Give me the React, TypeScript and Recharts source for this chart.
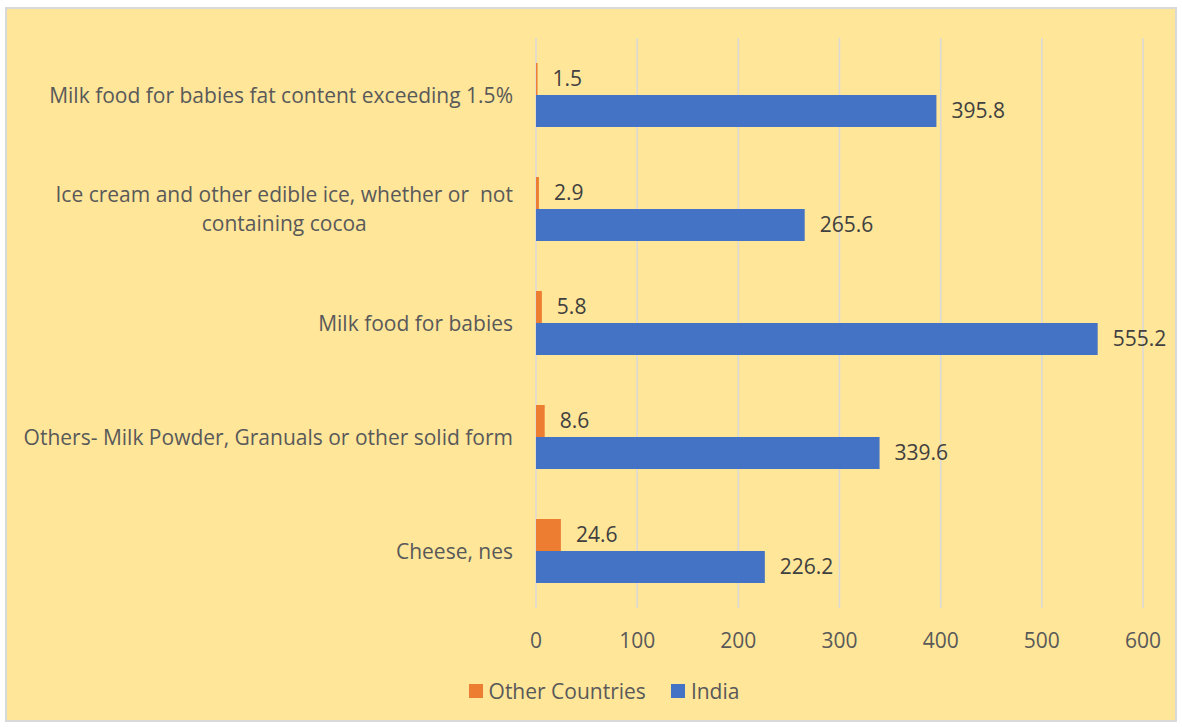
import { BarChart, Bar, XAxis, YAxis, CartesianGrid, Legend, LabelList } from 'recharts';

const categories = [
  'Milk food for babies fat content exceeding 1.5%',
  'Ice cream and other edible ice, whether or  not containing cocoa',
  'Milk food for babies',
  'Others- Milk Powder, Granuals or other solid form',
  'Cheese, nes',
];
const otherCountries = [1.5, 2.9, 5.8, 8.6, 24.6];
const india = [395.8, 265.6, 555.2, 339.6, 226.2];
const xTicks = [0, 100, 200, 300, 400, 500, 600];

const COLORS = {
  other: '#ED7D31',
  india: '#4472C4',
  bg: '#FFE699',
  grid: '#D9D9D9',
  text: '#595959',
  label: '#404040',
};

const data = categories.map((name, i) => ({
  name,
  'Other Countries': otherCountries[i],
  India: india[i],
}));

const FONT = '"Open Sans", sans-serif';
const FS = 21;

let ctx: CanvasRenderingContext2D | null = null;
function measure(s: string) {
  if (!ctx) ctx = document.createElement('canvas').getContext('2d');
  if (!ctx) return s.length * FS * 0.5;
  ctx.font = `${FS}px "Open Sans"`;
  return ctx.measureText(s).width;
}

// split a category name into lines that fit maxW
function wrapText(str: string, maxW: number) {
  const words = str.split(' ');
  const lines: string[] = [];
  let cur = '';
  words.forEach(w => {
    const next = cur === '' ? w : cur + ' ' + w;
    if (cur !== '' && measure(next) > maxW) {
      lines.push(cur);
      cur = w;
    } else {
      cur = next;
    }
  });
  if (cur !== '') lines.push(cur);
  return lines;
}

const LINE_H = 29;

const CategoryTick = (props: any) => {
  const { x, y, payload } = props;
  const lines = wrapText(payload.value, 520);
  const blockW = Math.max(...lines.map(measure));
  const cx = x - blockW / 2;
  const startY = y - ((lines.length - 1) * LINE_H) / 2;
  return (
    <text x={cx} y={startY} textAnchor="middle" fill={COLORS.text} fontSize={FS} fontFamily={FONT}>
      {lines.map((l, i) => (
        <tspan key={i} x={cx} y={startY + i * LINE_H} dy="0.36em" style={{ whiteSpace: 'pre' }}>{l}</tspan>
      ))}
    </text>
  );
};

const renderLegend = () => {
  const items = [
    { name: 'Other Countries', color: COLORS.other },
    { name: 'India', color: COLORS.india },
  ];
  return (
    <div style={{ display: 'flex', justifyContent: 'center', alignItems: 'center', height: 30, gap: 25, paddingLeft: 58 }}>
      {items.map(it => (
        <div key={it.name} style={{ display: 'flex', alignItems: 'center' }}>
          <span style={{ width: 14, height: 14, background: it.color, display: 'inline-block', marginRight: 6 }} />
          <span style={{ fontSize: FS, color: COLORS.text, fontFamily: FONT }}>{it.name}</span>
        </div>
      ))}
    </div>
  );
};

export default function App() {
  return (
    <div
      style={{
        position: 'absolute', left: 5, top: 7, width: 1168, height: 711,
        border: `2px solid ${COLORS.grid}`, background: COLORS.bg, fontFamily: FONT,
      }}
    >
      <BarChart
        width={1168}
        height={711}
        data={data}
        layout="vertical"
        barGap={0}
        margin={{ top: 29, right: 32, left: 0, bottom: 14 }}
      >
        <CartesianGrid horizontal={false} stroke={COLORS.grid} strokeWidth={1.5} />
        <XAxis
          type="number"
          domain={[0, 600]}
          ticks={xTicks}
          axisLine={false}
          tickLine={false}
          tickMargin={19}
          height={68}
          tick={{ fontSize: FS, fill: COLORS.text, fontFamily: FONT }}
        />
        <YAxis
          type="category"
          dataKey="name"
          width={529}
          axisLine={false}
          tickLine={false}
          tickMargin={17}
          tick={<CategoryTick />}
          interval={0}
        />
        <Legend verticalAlign="bottom" height={30} content={renderLegend} />
        <Bar dataKey="Other Countries" fill={COLORS.other} barSize={32} isAnimationActive={false}>
          <LabelList dataKey="Other Countries" position="right" offset={15} fill={COLORS.label} fontSize={FS} fontFamily={FONT} formatter={(v: any) => Number(v).toFixed(1)} />
        </Bar>
        <Bar dataKey="India" fill={COLORS.india} barSize={32} isAnimationActive={false}>
          <LabelList dataKey="India" position="right" offset={15} fill={COLORS.label} fontSize={FS} fontFamily={FONT} formatter={(v: any) => Number(v).toFixed(1)} />
        </Bar>
      </BarChart>
    </div>
  );
}
